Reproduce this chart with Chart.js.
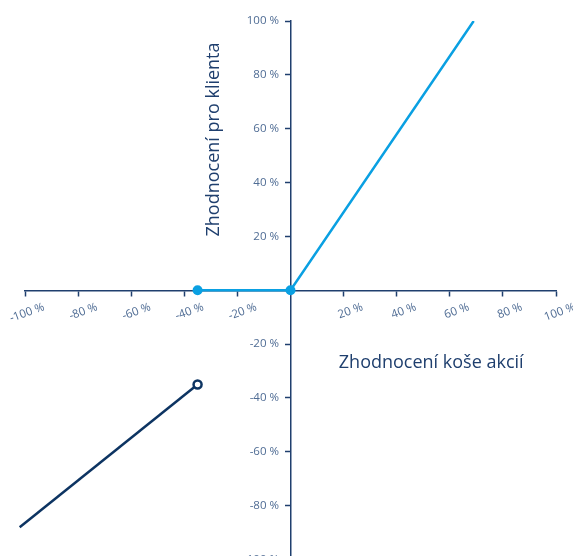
<!DOCTYPE html>
<html>
<head>
<meta charset="utf-8">
<script src="https://cdn.jsdelivr.net/npm/chart.js@4.4.1/dist/chart.umd.min.js"></script>
<style>
html,body{margin:0;padding:0;background:#fff;overflow:hidden;}
canvas{display:block;}
</style>
</head>
<body>
<!-- canvas runs a little past the window so the -100 % tick is cut like in the print -->
<canvas id="payoffChart" width="573" height="566"></canvas>
<script>
/* payoff chart: client return vs. basket return */

const tickValues = [-100,-80,-60,-40,-20,0,20,40,60,80,100];

const lossX = [-102,-35];
const lossY = [-88,-35];

const gainX = [-35,0,69];
const gainY = [0,0,100];

const xTitle = 'Zhodnocení koše akcií';
const yTitle = 'Zhodnocení pro klienta';

const navy = '#1f3f6e';
const tickGrey = '#4f6c94';
const blue = '#0aa0e2';
const dark = '#0d3462';

function toPoints(xs, ys){
  return xs.map((x,i)=>({x:x, y:ys[i]}));
}

function pctLabel(v){
  if(v === 0) return '';
  return v + ' %';
}

/* y labels are drawn flush with the axis, so leave a gap with an em space */
function pctLabelY(v){
  if(v === 0) return '';
  return v + ' %\u2003';
}

/* axis titles sit at data positions, not at the usual edge */
const axisTitles = {
  id:'axisTitles',
  afterDraw(chart){
    const {ctx, scales} = chart;
    ctx.save();
    ctx.fillStyle = navy;
    ctx.font = '18px "Open Sans"';
    ctx.textAlign = 'center';
    ctx.textBaseline = 'middle';
    ctx.fillText(xTitle, scales.x.getPixelForValue(53), scales.y.getPixelForValue(-27));
    ctx.translate(scales.x.getPixelForValue(-29), scales.y.getPixelForValue(56));
    ctx.rotate(-Math.PI/2);
    ctx.fillText(yTitle, 0, 0);
    ctx.restore();
  }
};

const axisCommon = {
  type:'linear',
  min:-100,
  max:100,
  border:{display:true, color:navy, width:1.5},
  grid:{drawOnChartArea:false, drawTicks:true, tickLength:5, tickWidth:1.5, color:(c)=> c.tick && c.tick.value === 0 ? 'rgba(0,0,0,0)' : navy},
  afterBuildTicks(scale){
    scale.ticks = tickValues.map(v=>({value:v}));
  },
  afterFit(scale){
    scale.paddingLeft = 0;
    scale.paddingRight = 0;
    scale.paddingTop = 0;
    scale.paddingBottom = 0;
  }
};

new Chart(document.getElementById('payoffChart'), {
  type:'scatter',
  data:{
    datasets:[
      {
        data:toPoints(lossX, lossY),
        showLine:true,
        clip:10,
        borderColor:dark,
        borderWidth:2.5,
        pointRadius:[0,4],
        pointBorderWidth:2.5,
        pointBackgroundColor:'#fff',
        pointBorderColor:dark
      },
      {
        data:toPoints(gainX, gainY),
        showLine:true,
        borderColor:blue,
        borderWidth:2.5,
        pointRadius:[5,5,0],
        pointBorderWidth:0,
        pointBackgroundColor:blue,
        pointBorderColor:blue
      }
    ]
  },
  options:{
    responsive:false,
    animation:false,
    layout:{padding:{left:25, right:17, top:21, bottom:0}},
    plugins:{legend:{display:false}, tooltip:{enabled:false}},
    scales:{
      x:Object.assign({}, axisCommon, {
        position:{y:0},
        ticks:{
          autoSkip:false,
          minRotation:20,
          maxRotation:20,
          labelOffset:19,
          padding:5,
          color:tickGrey,
          font:{family:'"Open Sans"', size:11.5},
          callback:pctLabel
        }
      }),
      y:Object.assign({}, axisCommon, {
        position:{x:0},
        ticks:{
          autoSkip:false,
          padding:4,
          color:tickGrey,
          font:{family:'"Open Sans"', size:11.5},
          callback:pctLabelY
        }
      })
    }
  },
  plugins:[axisTitles]
});
</script>
</body>
</html>
